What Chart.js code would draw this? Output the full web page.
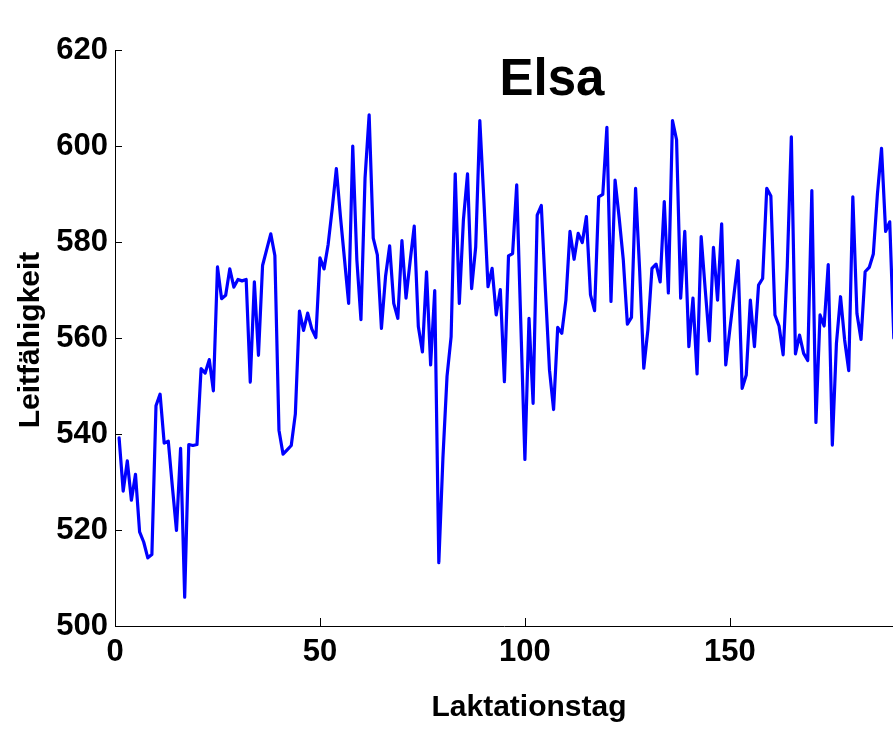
<!DOCTYPE html>
<html><head><meta charset="utf-8">
<script src="https://cdn.jsdelivr.net/npm/chart.js@4/dist/chart.umd.min.js"></script>
<style>html,body{margin:0;padding:0;background:#fff;overflow:hidden}#wrap{width:893px;height:729px;position:relative}</style>
</head><body><div id="wrap"><canvas id="c" width="893" height="729"></canvas></div>
<script>
const chartTitle = "Elsa";
const xAxisTitle = "Laktationstag";
const yAxisTitle = "Leitfähigkeit";
const xTickValues = [0, 50, 100, 150];
const yTickValues = [500, 520, 540, 560, 580, 600, 620];
const days = [
  1,2,3,4,5,6,7,8,9,10,11,12,13,14,15,16,17,18,19,20,
  21,22,23,24,25,26,27,28,29,30,31,32,33,34,35,36,37,38,39,40,
  41,42,43,44,45,46,47,48,49,50,51,52,53,54,55,56,57,58,59,60,
  61,62,63,64,65,66,67,68,69,70,71,72,73,74,75,76,77,78,79,80,
  81,82,83,84,85,86,87,88,89,90,91,92,93,94,95,96,97,98,99,100,
  101,102,103,104,105,106,107,108,109,110,111,112,113,114,115,116,117,118,119,120,
  121,122,123,124,125,126,127,128,129,130,131,132,133,134,135,136,137,138,139,140,
  141,142,143,144,145,146,147,148,149,150,151,152,153,154,155,156,157,158,159,160,
  161,162,163,164,165,166,167,168,169,170,171,172,173,174,175,176,177,178,179,180,
  181,182,183,184,185,186,187,188,189,190
];
const leitfaehigkeit = [
  539.2,528.1,534.4,526.2,531.6,519.6,517.5,514.2,514.9,545.9,
  548.3,538.1,538.5,529.0,519.9,537.0,506.0,537.8,537.6,537.8,
  553.6,552.7,555.5,549.0,574.8,568.2,568.9,574.4,570.6,572.2,
  571.9,572.2,550.8,571.7,556.4,575.1,578.4,581.7,577.2,540.8,
  535.8,536.7,537.6,544.2,565.6,561.6,565.2,561.9,560.1,576.7,
  574.4,579.5,587.0,595.3,585.3,576.3,567.2,600.0,576.3,563.8,
  593.3,606.5,580.8,577.3,562.0,572.8,579.2,567.2,564.1,580.3,
  568.3,576.0,583.3,562.4,557.1,573.8,554.4,569.9,513.2,535.0,
  552.0,560.3,594.2,567.2,584.6,594.2,570.3,579.0,605.3,588.6,
  570.7,574.5,564.8,570.1,550.9,577.1,577.6,591.9,563.0,534.7,
  564.1,546.4,585.6,587.6,570.0,553.3,545.1,562.2,561.0,567.9,
  582.2,576.4,581.8,579.9,585.3,569.0,565.7,589.4,589.9,603.9,
  567.6,592.9,585.0,576.3,562.9,564.3,591.2,574.0,553.7,561.7,
  574.5,575.4,571.7,588.4,569.4,605.3,601.3,568.3,582.2,558.2,
  568.3,552.5,581.1,570.0,559.4,578.9,567.9,583.8,554.4,561.8,
  569.0,576.1,549.5,552.3,567.9,558.2,571.0,572.4,591.2,589.6,
  564.8,562.5,556.5,574.9,601.9,556.7,560.6,556.8,555.3,590.7,
  542.4,564.8,562.5,575.3,537.7,558.9,568.6,559.6,553.2,589.4,
  565.1,559.7,573.8,574.7,577.5,590.0,599.5,582.2,584.2,560.0
];

const FONT = '"Liberation Sans", Arial, Helvetica, sans-serif';
const points = days.map((d, i) => ({ x: d, y: leitfaehigkeit[i] }));

const decorPlugin = {
  id: 'decor',
  afterDraw(chart) {
    const ctx = chart.ctx;
    const xs = chart.scales.x, ys = chart.scales.y;
    const area = chart.chartArea;
    ctx.save();
    ctx.strokeStyle = '#000';
    ctx.lineWidth = 1;
    ctx.beginPath();
    xTickValues.forEach(v => {
      const px = Math.round(xs.getPixelForValue(v)) + 0.5;
      ctx.moveTo(px, area.bottom);
      ctx.lineTo(px, area.bottom - 8);
    });
    yTickValues.forEach(v => {
      const py = Math.round(ys.getPixelForValue(v)) + 0.5;
      ctx.moveTo(area.left, py);
      ctx.lineTo(area.left + 7, py);
    });
    ctx.stroke();
    ctx.fillStyle = '#000';
    ctx.textAlign = 'center';
    ctx.textBaseline = 'alphabetic';
    ctx.font = 'bold 51px ' + FONT;
    ctx.fillText(chartTitle, 552, 95);
    ctx.font = 'bold 30px ' + FONT;
    ctx.fillText(xAxisTitle, 529, 716);
    ctx.translate(39, 340);
    ctx.rotate(-Math.PI / 2);
    ctx.fillText(yAxisTitle, 0, 0);
    ctx.restore();
  }
};

new Chart(document.getElementById('c'), {
  type: 'line',
  data: {
    datasets: [{
      data: points,
      borderColor: '#0000ff',
      borderWidth: 3.2,
      pointRadius: 0,
      tension: 0,
      fill: false,
      borderJoinStyle: 'round',
      borderCapStyle: 'round'
    }]
  },
  options: {
    responsive: false,
    animation: false,
    devicePixelRatio: 1,
    layout: { padding: { left: 0, right: 0, top: 50, bottom: 0 } },
    plugins: { legend: { display: false }, tooltip: { enabled: false }, title: { display: false } },
    scales: {
      x: {
        type: 'linear',
        min: 0,
        max: 189.8,
        afterBuildTicks: s => { s.ticks = xTickValues.map(v => ({ value: v })); },
        afterFit: s => { s.height = 103; },
        grid: { display: false, drawTicks: false },
        border: { display: true, color: '#000', width: 1 },
        ticks: { color: '#000', font: { family: FONT, size: 31, weight: 'bold' }, padding: 8, maxRotation: 0, autoSkip: false }
      },
      y: {
        type: 'linear',
        min: 500,
        max: 620,
        afterBuildTicks: s => { s.ticks = yTickValues.map(v => ({ value: v })); },
        afterFit: s => { s.width = 115; },
        grid: { display: false, drawTicks: false },
        border: { display: true, color: '#000', width: 1 },
        ticks: { color: '#000', font: { family: FONT, size: 31, weight: 'bold' }, padding: 7, autoSkip: false }
      }
    }
  },
  plugins: [decorPlugin]
});
</script>
</body></html>
